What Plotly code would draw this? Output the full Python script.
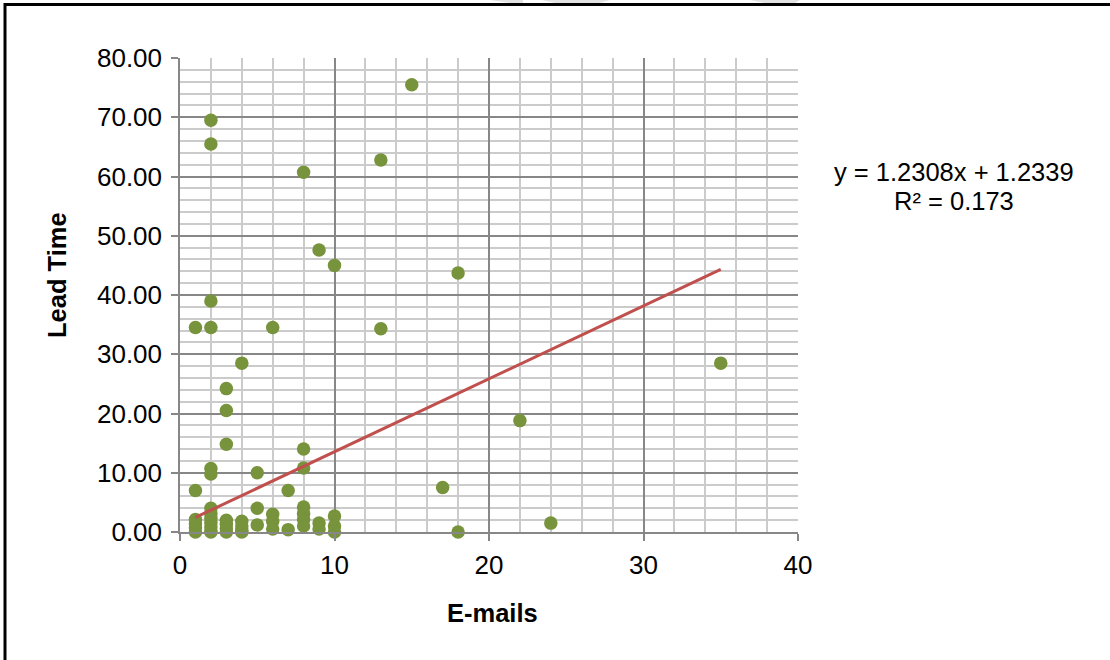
import plotly.graph_objects as go

# ---- data ----
emails = (
    [1] * 6 + [2] * 13 + [3] * 7 + [4] * 5 + [5] * 3 + [6] * 4 + [7] * 2 +
    [8] * 7 + [9] * 3 + [10] * 4 + [13] * 2 + [15] + [17] + [18] * 2 +
    [22] + [24] + [35]
)
lead_time = [
    34.5, 7.0, 2.1, 1.4, 0.7, 0.0,                                   # 1
    69.5, 65.5, 39.0, 34.5, 10.7, 9.8, 4.0, 3.1, 2.3, 1.6, 0.9, 0.2, 0.0,  # 2
    24.2, 20.5, 14.8, 2.0, 1.3, 0.6, 0.0,                            # 3
    28.5, 1.8, 1.0, 0.3, 0.0,                                        # 4
    10.0, 4.0, 1.2,                                                  # 5
    34.5, 3.0, 1.8, 0.5,                                             # 6
    7.0, 0.4,                                                        # 7
    60.7, 14.0, 10.8, 4.2, 3.1, 2.1, 1.0,                            # 8
    47.6, 1.5, 0.5,                                                  # 9
    45.0, 2.7, 1.0, 0.0,                                             # 10
    62.8, 34.3,                                                      # 13
    75.5,                                                            # 15
    7.5,                                                             # 17
    43.7, 0.0,                                                       # 18
    18.8,                                                            # 22
    1.5,                                                             # 24
    28.5,                                                            # 35
]
trend_slope = 1.2308
trend_intercept = 1.2339
trend_r2 = 0.173
trend_x = [min(emails), max(emails)]
trend_y = [trend_slope * v + trend_intercept for v in trend_x]

y_ticks = [0, 10, 20, 30, 40, 50, 60, 70, 80]
x_ticks = [0, 10, 20, 30, 40]

# ---- geometry helpers (pixel -> paper) ----
W, H = 1110, 660
L, R, T, B = 180, 798, 58, 532


def px(xp):
    return (xp - L) / (R - L)


def py(yp):
    return (B - yp) / (B - T)


FONT = "Liberation Sans, Arial, sans-serif"
GREEN = "#77933C"
RED = "#C0504D"

fig = go.Figure()
fig.add_trace(go.Scatter(
    x=emails, y=lead_time, mode="markers",
    marker=dict(color=GREEN, size=13.5, line=dict(width=0)),
    cliponaxis=False, showlegend=False, hoverinfo="x+y",
))
fig.add_trace(go.Scatter(
    x=trend_x, y=trend_y, mode="lines",
    line=dict(color=RED, width=3), cliponaxis=False,
    showlegend=False, hoverinfo="skip",
))

axis_common = dict(
    showgrid=True, gridcolor="#878787", gridwidth=1.5,
    zeroline=False, showline=True, linecolor="#878787", linewidth=1.5,
    ticks="outside", ticklen=7, tickcolor="#878787", tickwidth=1.5,
    tickfont=dict(family=FONT, size=26, color="#000000"),
)

fig.update_xaxes(
    range=[0, 40], tickvals=x_ticks, ticktext=[str(v) for v in x_ticks],
    minor=dict(dtick=2, showgrid=True, gridcolor="#cbcbcb", gridwidth=1.5, ticks=""),
    ticklabelstandoff=2,
    **axis_common,
)
fig.update_yaxes(
    range=[0, 80], tickvals=y_ticks, ticktext=[f"{v:.2f}" for v in y_ticks],
    minor=dict(dtick=2, showgrid=True, gridcolor="#cbcbcb", gridwidth=1.5, ticks=""),
    ticklabelstandoff=4,
    **axis_common,
)

annotations = [
    dict(text="<b>E-mails</b>", x=px(492), y=py(613), xref="paper", yref="paper",
         showarrow=False, xanchor="center", yanchor="middle",
         font=dict(family=FONT, size=25.5, color="#000000")),
    dict(text="<b>Lead Time</b>", x=px(57), y=py(275), xref="paper", yref="paper",
         showarrow=False, xanchor="center", yanchor="middle", textangle=-90,
         font=dict(family=FONT, size=25.5, color="#000000")),
    dict(text=f"y = {trend_slope}x + {trend_intercept}", x=px(954), y=py(172),
         xref="paper", yref="paper", showarrow=False, xanchor="center", yanchor="middle",
         font=dict(family=FONT, size=25.5, color="#000000")),
    dict(text=f"R² = {trend_r2}", x=px(954), y=py(201),
         xref="paper", yref="paper", showarrow=False, xanchor="center", yanchor="middle",
         font=dict(family=FONT, size=25.5, color="#000000")),
]

shapes = [
    # outer frame (top and left edges)
    dict(type="line", xref="paper", yref="paper", x0=px(4), x1=px(1112), y0=py(4.5), y1=py(4.5),
         line=dict(color="#000000", width=3)),
    dict(type="line", xref="paper", yref="paper", x0=px(5), x1=px(5), y0=py(3), y1=py(662),
         line=dict(color="#000000", width=3)),
]
# faint watermark fragments above the frame
for pts in [[(490, 0), (523, 0), (523, 3), (510, 3)],
            [(542, 0), (610, 0), (600, 3), (555, 3)],
            [(750, 0), (800, 0), (795, 3), (765, 3)]]:
    path = "M " + " L ".join(f"{px(a):.5f},{py(b):.5f}" for a, b in pts) + " Z"
    shapes.append(dict(type="path", xref="paper", yref="paper", path=path,
                       fillcolor="#e2e2e2", line=dict(width=0), layer="below"))

fig.update_layout(
    width=W, height=H,
    margin=dict(l=L, r=W - R, t=T, b=H - B, pad=0),
    paper_bgcolor="#ffffff", plot_bgcolor="#ffffff",
    annotations=annotations, shapes=shapes,
    font=dict(family=FONT, color="#000000"),
    showlegend=False,
)

fig.write_html(
    "out.html",
    config={"displayModeBar": False},
    post_script="document.body.style.margin='0';document.body.style.overflow='hidden';",
)
